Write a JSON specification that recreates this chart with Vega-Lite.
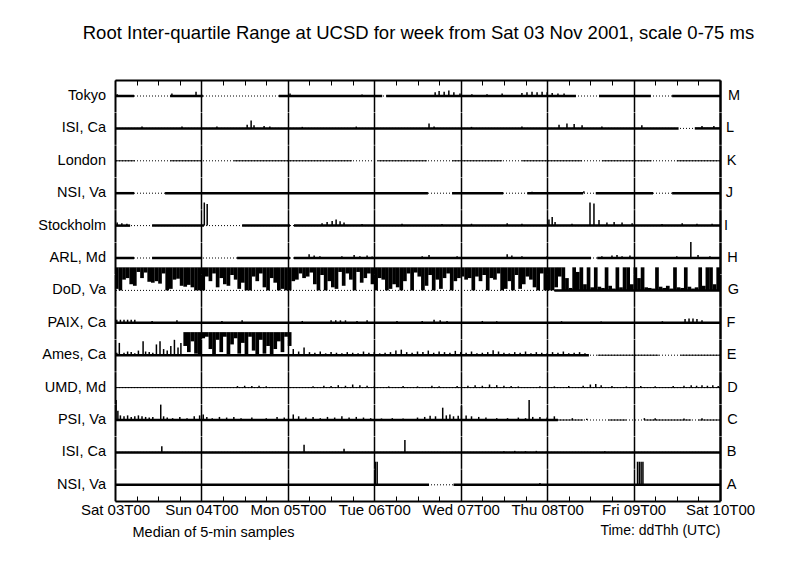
{
"$schema":"https://vega.github.io/schema/vega-lite/v6.json",
"background":"white",
"padding":{"left":38,"top":24,"right":5,"bottom":5},
"bounds":"flush",
"title":{"text":"Root Inter-quartile Range at UCSD for week from Sat 03 Nov 2001, scale 0-75 ms","font":"Liberation Sans","fontSize":18.5,"fontWeight":"normal","color":"black","offset":37,"anchor":"middle","dx":22},
"data":{"values":[
{"k":"M","m":"n","n":"Tokyo"},{"k":"L","m":"n","n":"ISI, Ca"},{"k":"K","m":"n","n":"London"},{"k":"J","m":"n","n":"NSI, Va"},{"k":"I","m":"n","n":"Stockholm"},{"k":"H","m":"n","n":"ARL, Md"},{"k":"G","m":"n","n":"DoD, Va"},{"k":"F","m":"n","n":"PAIX, Ca"},{"k":"E","m":"n","n":"Ames, Ca"},{"k":"D","m":"n","n":"UMD, Md"},{"k":"C","m":"n","n":"PSI, Va"},{"k":"B","m":"n","n":"ISI, Ca"},{"k":"A","m":"n","n":"NSI, Va"},
{"k":"M","m":"c","t":0,"u":5.3},{"k":"M","m":"c","t":15.3,"u":24.4},{"k":"M","m":"c","t":45.5,"u":74.2},{"k":"M","m":"c","t":75.3,"u":128},{"k":"M","m":"c","t":134.4,"u":148.8},{"k":"M","m":"c","t":154.7,"u":168},
{"k":"M","m":"b","t":0.6,"v":6},{"k":"M","m":"b","t":15.8,"v":8},{"k":"M","m":"b","t":22.5,"v":14},{"k":"M","m":"b","t":48.6,"v":8},{"k":"M","m":"b","t":68.6,"v":5},{"k":"M","m":"b","t":88.9,"v":12},{"k":"M","m":"b","t":90,"v":16},{"k":"M","m":"b","t":91.4,"v":14},{"k":"M","m":"b","t":92.7,"v":18},{"k":"M","m":"b","t":94.1,"v":12},{"k":"M","m":"b","t":95.8,"v":8},{"k":"M","m":"b","t":99.1,"v":6},{"k":"M","m":"b","t":103.3,"v":6},{"k":"M","m":"b","t":107.5,"v":8},{"k":"M","m":"b","t":113,"v":10},{"k":"M","m":"b","t":114.4,"v":12},{"k":"M","m":"b","t":115.8,"v":14},{"k":"M","m":"b","t":117.2,"v":12},{"k":"M","m":"b","t":118.6,"v":14},{"k":"M","m":"b","t":120,"v":12},{"k":"M","m":"b","t":121.4,"v":10},{"k":"M","m":"b","t":123,"v":8},{"k":"M","m":"b","t":124.7,"v":8},
{"k":"L","m":"c","t":0,"u":156.5},{"k":"L","m":"c","t":161,"u":168},
{"k":"L","m":"b","t":7.5,"v":6},{"k":"L","m":"b","t":18.6,"v":6},{"k":"L","m":"b","t":28.3,"v":6},{"k":"L","m":"b","t":36.7,"v":12},{"k":"L","m":"b","t":37.8,"v":26},{"k":"L","m":"b","t":38.6,"v":10},{"k":"L","m":"b","t":41.4,"v":8},{"k":"L","m":"b","t":43,"v":6},{"k":"L","m":"b","t":52,"v":5},{"k":"L","m":"b","t":67,"v":6},{"k":"L","m":"b","t":87.2,"v":16},{"k":"L","m":"b","t":88.6,"v":6},{"k":"L","m":"b","t":99,"v":5},{"k":"L","m":"b","t":113,"v":6},{"k":"L","m":"b","t":123.3,"v":12},{"k":"L","m":"b","t":125.5,"v":16},{"k":"L","m":"b","t":127.5,"v":14},{"k":"L","m":"b","t":129.7,"v":10},{"k":"L","m":"b","t":135.2,"v":6},{"k":"L","m":"b","t":146.3,"v":10},{"k":"L","m":"b","t":163,"v":8},{"k":"L","m":"b","t":166.3,"v":8},
{"k":"K","m":"z","t":0,"u":5.5},{"k":"K","m":"z","t":15.3,"u":24.2},{"k":"K","m":"z","t":33,"u":65.8},{"k":"K","m":"z","t":73,"u":86.6},{"k":"K","m":"z","t":93.6,"u":107.5},{"k":"K","m":"z","t":113,"u":129.7},{"k":"K","m":"z","t":135.2,"u":149},{"k":"K","m":"z","t":156,"u":168},
{"k":"J","m":"c","t":0,"u":5.3},{"k":"J","m":"c","t":13.9,"u":86.9},{"k":"J","m":"c","t":93.6,"u":107.8},{"k":"J","m":"c","t":114.5,"u":130},{"k":"J","m":"c","t":133.5,"u":149.4},{"k":"J","m":"c","t":154.7,"u":168},
{"k":"J","m":"b","t":115.8,"v":5},{"k":"J","m":"b","t":130.2,"v":6},
{"k":"I","m":"c","t":0,"u":4.2},{"k":"I","m":"c","t":10.3,"u":24.7},{"k":"I","m":"c","t":35.3,"u":48.6},{"k":"I","m":"c","t":49.7,"u":168},
{"k":"I","m":"b","t":0.6,"v":10},{"k":"I","m":"b","t":1.9,"v":8},{"k":"I","m":"b","t":3.3,"v":6},{"k":"I","m":"b","t":24.8,"v":75},{"k":"I","m":"b","t":25.6,"v":70},{"k":"I","m":"b","t":57.5,"v":8},{"k":"I","m":"b","t":58.9,"v":12},{"k":"I","m":"b","t":60.3,"v":15},{"k":"I","m":"b","t":61.4,"v":20},{"k":"I","m":"b","t":62.5,"v":14},{"k":"I","m":"b","t":63.6,"v":10},{"k":"I","m":"b","t":68.6,"v":5},{"k":"I","m":"b","t":79.7,"v":6},{"k":"I","m":"b","t":90.8,"v":5},{"k":"I","m":"b","t":99,"v":6},{"k":"I","m":"b","t":108.9,"v":8},{"k":"I","m":"b","t":113,"v":6},{"k":"I","m":"b","t":120.5,"v":20},{"k":"I","m":"b","t":121.4,"v":28},{"k":"I","m":"b","t":122.2,"v":12},{"k":"I","m":"b","t":126.9,"v":6},{"k":"I","m":"b","t":131.9,"v":75},{"k":"I","m":"b","t":133,"v":72},{"k":"I","m":"b","t":134.4,"v":18},{"k":"I","m":"b","t":136.6,"v":10},{"k":"I","m":"b","t":138.6,"v":12},{"k":"I","m":"b","t":140.8,"v":10},{"k":"I","m":"b","t":143.6,"v":8},{"k":"I","m":"b","t":151.9,"v":5},{"k":"I","m":"b","t":157.5,"v":8},{"k":"I","m":"b","t":161.6,"v":6},{"k":"I","m":"b","t":165.8,"v":6},
{"k":"H","m":"c","t":0,"u":5.3},{"k":"H","m":"c","t":10.3,"u":24.2},{"k":"H","m":"c","t":33.9,"u":48.6},{"k":"H","m":"c","t":49.7,"u":132.2},{"k":"H","m":"c","t":133.9,"u":168},
{"k":"H","m":"b","t":53.9,"v":12},{"k":"H","m":"b","t":55.3,"v":8},{"k":"H","m":"b","t":56.9,"v":6},{"k":"H","m":"b","t":63,"v":6},{"k":"H","m":"b","t":66.4,"v":10},{"k":"H","m":"b","t":68,"v":6},{"k":"H","m":"b","t":70,"v":8},{"k":"H","m":"b","t":71.4,"v":5},{"k":"H","m":"b","t":85.3,"v":6},{"k":"H","m":"b","t":87.2,"v":10},{"k":"H","m":"b","t":95,"v":6},{"k":"H","m":"b","t":108.9,"v":12},{"k":"H","m":"b","t":110.2,"v":8},{"k":"H","m":"b","t":113,"v":6},{"k":"H","m":"b","t":120,"v":6},{"k":"H","m":"b","t":135.2,"v":6},{"k":"H","m":"b","t":138,"v":8},{"k":"H","m":"b","t":139.4,"v":10},{"k":"H","m":"b","t":140.8,"v":6},{"k":"H","m":"b","t":143,"v":8},{"k":"H","m":"b","t":156,"v":6},{"k":"H","m":"b","t":159.9,"v":52},{"k":"H","m":"b","t":161.9,"v":10},{"k":"H","m":"b","t":165.2,"v":6},
{"k":"G","m":"c","t":122,"u":168},
{"k":"G","m":"r","t":0.5,"lo":5,"v":75},{"k":"G","m":"r","t":1.5,"lo":0,"v":75},{"k":"G","m":"r","t":2.5,"lo":35,"v":75},{"k":"G","m":"r","t":3.5,"lo":40,"v":75},{"k":"G","m":"r","t":4.5,"lo":20,"v":75},{"k":"G","m":"r","t":5.5,"lo":15,"v":75},{"k":"G","m":"r","t":6.5,"lo":60,"v":75},{"k":"G","m":"r","t":7.5,"lo":40,"v":75},{"k":"G","m":"r","t":8.5,"lo":58,"v":75},{"k":"G","m":"r","t":9.5,"lo":28,"v":75},{"k":"G","m":"r","t":10.5,"lo":25,"v":75},{"k":"G","m":"r","t":11.5,"lo":30,"v":75},{"k":"G","m":"r","t":12.5,"lo":22,"v":75},{"k":"G","m":"r","t":13.5,"lo":55,"v":75},{"k":"G","m":"r","t":14.5,"lo":0,"v":75},{"k":"G","m":"r","t":15.5,"lo":5,"v":75},{"k":"G","m":"r","t":16.5,"lo":35,"v":75},{"k":"G","m":"r","t":17.5,"lo":38,"v":75},{"k":"G","m":"r","t":18.5,"lo":15,"v":75},{"k":"G","m":"r","t":19.5,"lo":12,"v":75},{"k":"G","m":"r","t":20.5,"lo":18,"v":75},{"k":"G","m":"r","t":21.5,"lo":10,"v":75},{"k":"G","m":"r","t":22.5,"lo":0,"v":75},{"k":"G","m":"r","t":23.5,"lo":0,"v":75},
{"k":"G","m":"r","t":24.5,"lo":0,"v":75},{"k":"G","m":"r","t":25.5,"lo":45,"v":75},{"k":"G","m":"r","t":26.5,"lo":30,"v":75},{"k":"G","m":"r","t":27.5,"lo":55,"v":75},{"k":"G","m":"r","t":28.5,"lo":10,"v":75},{"k":"G","m":"r","t":29.5,"lo":40,"v":75},{"k":"G","m":"r","t":30.5,"lo":20,"v":75},{"k":"G","m":"r","t":31.5,"lo":15,"v":75},{"k":"G","m":"r","t":32.5,"lo":50,"v":75},{"k":"G","m":"r","t":33.5,"lo":35,"v":75},{"k":"G","m":"r","t":34.5,"lo":5,"v":75},{"k":"G","m":"r","t":35.5,"lo":25,"v":75},{"k":"G","m":"r","t":36.5,"lo":0,"v":75},{"k":"G","m":"r","t":37.5,"lo":0,"v":75},{"k":"G","m":"r","t":38.5,"lo":45,"v":75},{"k":"G","m":"r","t":39.5,"lo":30,"v":75},{"k":"G","m":"r","t":40.5,"lo":55,"v":75},{"k":"G","m":"r","t":41.5,"lo":10,"v":75},{"k":"G","m":"r","t":42.5,"lo":0,"v":75},{"k":"G","m":"r","t":43.5,"lo":40,"v":75},{"k":"G","m":"r","t":44.5,"lo":25,"v":75},{"k":"G","m":"r","t":45.5,"lo":0,"v":75},{"k":"G","m":"r","t":46.5,"lo":5,"v":75},{"k":"G","m":"r","t":47.5,"lo":0,"v":75},
{"k":"G","m":"r","t":48.5,"lo":0,"v":75},{"k":"G","m":"r","t":49.5,"lo":30,"v":75},{"k":"G","m":"r","t":50.5,"lo":35,"v":75},{"k":"G","m":"r","t":51.5,"lo":55,"v":75},{"k":"G","m":"r","t":52.5,"lo":40,"v":75},{"k":"G","m":"r","t":53.5,"lo":45,"v":75},{"k":"G","m":"r","t":54.5,"lo":58,"v":75},{"k":"G","m":"r","t":55.5,"lo":20,"v":75},{"k":"G","m":"r","t":56.5,"lo":0,"v":75},{"k":"G","m":"r","t":57.5,"lo":50,"v":75},{"k":"G","m":"r","t":58.5,"lo":0,"v":75},{"k":"G","m":"r","t":59.5,"lo":30,"v":75},{"k":"G","m":"r","t":60.5,"lo":10,"v":75},{"k":"G","m":"r","t":61.5,"lo":5,"v":75},{"k":"G","m":"r","t":62.5,"lo":60,"v":75},{"k":"G","m":"r","t":63.5,"lo":15,"v":75},{"k":"G","m":"r","t":64.5,"lo":55,"v":75},{"k":"G","m":"r","t":65.5,"lo":35,"v":75},{"k":"G","m":"r","t":66.5,"lo":0,"v":75},{"k":"G","m":"r","t":67.5,"lo":60,"v":75},{"k":"G","m":"r","t":68.5,"lo":25,"v":75},{"k":"G","m":"r","t":69.5,"lo":40,"v":75},{"k":"G","m":"r","t":70.5,"lo":55,"v":75},{"k":"G","m":"r","t":71.5,"lo":20,"v":75},
{"k":"G","m":"r","t":72.5,"lo":0,"v":75},{"k":"G","m":"r","t":73.5,"lo":40,"v":75},{"k":"G","m":"r","t":74.5,"lo":35,"v":75},{"k":"G","m":"r","t":75.5,"lo":0,"v":75},{"k":"G","m":"r","t":76.5,"lo":5,"v":75},{"k":"G","m":"r","t":77.5,"lo":20,"v":75},{"k":"G","m":"r","t":78.5,"lo":10,"v":75},{"k":"G","m":"r","t":79.5,"lo":0,"v":75},{"k":"G","m":"r","t":80.5,"lo":30,"v":75},{"k":"G","m":"r","t":81.5,"lo":55,"v":75},{"k":"G","m":"r","t":82.5,"lo":0,"v":75},{"k":"G","m":"r","t":83.5,"lo":58,"v":75},{"k":"G","m":"r","t":84.5,"lo":45,"v":75},{"k":"G","m":"r","t":85.5,"lo":0,"v":75},{"k":"G","m":"r","t":86.5,"lo":15,"v":75},{"k":"G","m":"r","t":87.5,"lo":50,"v":75},{"k":"G","m":"r","t":88.5,"lo":0,"v":75},{"k":"G","m":"r","t":89.5,"lo":35,"v":75},{"k":"G","m":"r","t":90.5,"lo":5,"v":75},{"k":"G","m":"r","t":91.5,"lo":40,"v":75},{"k":"G","m":"r","t":92.5,"lo":55,"v":75},{"k":"G","m":"r","t":93.5,"lo":0,"v":75},{"k":"G","m":"r","t":94.5,"lo":30,"v":75},{"k":"G","m":"r","t":95.5,"lo":40,"v":75},
{"k":"G","m":"r","t":96.5,"lo":45,"v":75},{"k":"G","m":"r","t":97.5,"lo":35,"v":75},{"k":"G","m":"r","t":98.5,"lo":40,"v":75},{"k":"G","m":"r","t":99.5,"lo":0,"v":75},{"k":"G","m":"r","t":100.5,"lo":45,"v":75},{"k":"G","m":"r","t":101.5,"lo":30,"v":75},{"k":"G","m":"r","t":102.5,"lo":50,"v":75},{"k":"G","m":"r","t":103.5,"lo":0,"v":75},{"k":"G","m":"r","t":104.5,"lo":40,"v":75},{"k":"G","m":"r","t":105.5,"lo":35,"v":75},{"k":"G","m":"r","t":106.5,"lo":55,"v":75},{"k":"G","m":"r","t":107.5,"lo":0,"v":75},{"k":"G","m":"r","t":108.5,"lo":5,"v":75},{"k":"G","m":"r","t":109.5,"lo":30,"v":75},{"k":"G","m":"r","t":110.5,"lo":0,"v":75},{"k":"G","m":"r","t":111.5,"lo":50,"v":75},{"k":"G","m":"r","t":112.5,"lo":5,"v":75},{"k":"G","m":"r","t":113.5,"lo":20,"v":75},{"k":"G","m":"r","t":114.5,"lo":45,"v":75},{"k":"G","m":"r","t":115.5,"lo":35,"v":75},{"k":"G","m":"r","t":116.5,"lo":10,"v":75},{"k":"G","m":"r","t":117.5,"lo":0,"v":75},{"k":"G","m":"r","t":118.5,"lo":55,"v":75},{"k":"G","m":"r","t":119.5,"lo":0,"v":75},
{"k":"G","m":"r","t":120.5,"lo":0,"v":75},{"k":"G","m":"r","t":121.5,"lo":0,"v":75},{"k":"G","m":"r","t":122.5,"lo":10,"v":75},{"k":"G","m":"r","t":123.5,"lo":45,"v":75},{"k":"G","m":"r","t":124.5,"lo":0,"v":75},{"k":"G","m":"r","t":125.5,"lo":0,"v":40},{"k":"G","m":"r","t":126.5,"lo":0,"v":8},{"k":"G","m":"r","t":127.5,"lo":0,"v":75},{"k":"G","m":"r","t":128.5,"lo":0,"v":60},{"k":"G","m":"r","t":129.5,"lo":0,"v":75},{"k":"G","m":"r","t":130.5,"lo":0,"v":20},{"k":"G","m":"r","t":131.5,"lo":0,"v":75},{"k":"G","m":"r","t":132.5,"lo":0,"v":10},{"k":"G","m":"r","t":133.5,"lo":0,"v":75},{"k":"G","m":"r","t":134.5,"lo":0,"v":12},{"k":"G","m":"r","t":135.5,"lo":0,"v":8},{"k":"G","m":"r","t":136.5,"lo":0,"v":75},{"k":"G","m":"r","t":137.5,"lo":0,"v":15},{"k":"G","m":"r","t":138.5,"lo":0,"v":6},{"k":"G","m":"r","t":139.5,"lo":0,"v":75},{"k":"G","m":"r","t":140.5,"lo":0,"v":10},{"k":"G","m":"r","t":141.5,"lo":0,"v":75},{"k":"G","m":"r","t":142.5,"lo":0,"v":75},{"k":"G","m":"r","t":143.5,"lo":0,"v":20},
{"k":"G","m":"r","t":144.5,"lo":0,"v":75},{"k":"G","m":"r","t":145.5,"lo":0,"v":40},{"k":"G","m":"r","t":146.5,"lo":0,"v":75},{"k":"G","m":"r","t":147.5,"lo":0,"v":10},{"k":"G","m":"r","t":148.5,"lo":0,"v":8},{"k":"G","m":"r","t":149.5,"lo":0,"v":6},{"k":"G","m":"r","t":150.5,"lo":0,"v":75},{"k":"G","m":"r","t":151.5,"lo":0,"v":12},{"k":"G","m":"r","t":152.5,"lo":0,"v":8},{"k":"G","m":"r","t":153.5,"lo":0,"v":15},{"k":"G","m":"r","t":154.5,"lo":0,"v":6},{"k":"G","m":"r","t":155.5,"lo":0,"v":75},{"k":"G","m":"r","t":156.5,"lo":0,"v":10},{"k":"G","m":"r","t":157.5,"lo":0,"v":8},{"k":"G","m":"r","t":158.5,"lo":0,"v":75},{"k":"G","m":"r","t":159.5,"lo":0,"v":12},{"k":"G","m":"r","t":160.5,"lo":0,"v":6},{"k":"G","m":"r","t":161.5,"lo":0,"v":10},{"k":"G","m":"r","t":162.5,"lo":0,"v":75},{"k":"G","m":"r","t":163.5,"lo":0,"v":15},{"k":"G","m":"r","t":164.5,"lo":0,"v":75},{"k":"G","m":"r","t":165.5,"lo":0,"v":75},{"k":"G","m":"r","t":166.5,"lo":0,"v":20},{"k":"G","m":"r","t":167.5,"lo":0,"v":75},
{"k":"F","m":"c","t":0,"u":168},
{"k":"F","m":"b","t":0.5,"v":10},{"k":"F","m":"b","t":1.5,"v":10},{"k":"F","m":"b","t":2.5,"v":10},{"k":"F","m":"b","t":3.5,"v":10},{"k":"F","m":"b","t":4.5,"v":10},{"k":"F","m":"b","t":5.5,"v":10},{"k":"F","m":"b","t":10.3,"v":6},{"k":"F","m":"b","t":17.2,"v":8},{"k":"F","m":"b","t":29.7,"v":6},{"k":"F","m":"b","t":35.3,"v":8},{"k":"F","m":"b","t":52,"v":6},{"k":"F","m":"b","t":60,"v":8},{"k":"F","m":"b","t":61.3,"v":8},{"k":"F","m":"b","t":62.6,"v":8},{"k":"F","m":"b","t":64,"v":8},{"k":"F","m":"b","t":67.2,"v":6},{"k":"F","m":"b","t":70,"v":8},{"k":"F","m":"b","t":78.3,"v":6},{"k":"F","m":"b","t":85.3,"v":6},{"k":"F","m":"b","t":88.6,"v":10},{"k":"F","m":"b","t":90.3,"v":8},{"k":"F","m":"b","t":92.2,"v":6},{"k":"F","m":"b","t":102,"v":6},{"k":"F","m":"b","t":106,"v":5},{"k":"F","m":"b","t":124,"v":5},{"k":"F","m":"b","t":135,"v":4},{"k":"F","m":"b","t":152,"v":5},{"k":"F","m":"b","t":158.3,"v":12},{"k":"F","m":"b","t":159.4,"v":14},{"k":"F","m":"b","t":160.5,"v":14},{"k":"F","m":"b","t":161.6,"v":12},{"k":"F","m":"b","t":163,"v":8},
{"k":"E","m":"c","t":0,"u":131.6},{"k":"E","m":"z","t":134,"u":151},{"k":"E","m":"z","t":157,"u":168},
{"k":"E","m":"b","t":0.5,"v":8},{"k":"E","m":"b","t":1.2,"v":40},{"k":"E","m":"b","t":2.5,"v":8},{"k":"E","m":"b","t":3.5,"v":12},{"k":"E","m":"b","t":4.5,"v":10},{"k":"E","m":"b","t":5.5,"v":6},{"k":"E","m":"b","t":6.5,"v":15},{"k":"E","m":"b","t":7.8,"v":45},{"k":"E","m":"b","t":8.5,"v":12},{"k":"E","m":"b","t":9.5,"v":10},{"k":"E","m":"b","t":10.5,"v":8},{"k":"E","m":"b","t":11.5,"v":35},{"k":"E","m":"b","t":12.5,"v":45},{"k":"E","m":"b","t":13.5,"v":20},{"k":"E","m":"b","t":14.5,"v":15},{"k":"E","m":"b","t":15.5,"v":30},{"k":"E","m":"b","t":16.5,"v":50},{"k":"E","m":"b","t":17.5,"v":25},{"k":"E","m":"b","t":18.3,"v":40},
{"k":"E","m":"r","t":19.5,"lo":30,"v":75},{"k":"E","m":"r","t":20.5,"lo":10,"v":75},{"k":"E","m":"r","t":21.5,"lo":45,"v":75},{"k":"E","m":"r","t":22.5,"lo":5,"v":75},{"k":"E","m":"r","t":23.5,"lo":0,"v":75},{"k":"E","m":"r","t":24.5,"lo":55,"v":75},{"k":"E","m":"r","t":25.5,"lo":60,"v":75},{"k":"E","m":"r","t":26.5,"lo":20,"v":75},{"k":"E","m":"r","t":27.5,"lo":0,"v":75},{"k":"E","m":"r","t":28.5,"lo":50,"v":75},{"k":"E","m":"r","t":29.5,"lo":10,"v":75},{"k":"E","m":"r","t":30.5,"lo":60,"v":75},{"k":"E","m":"r","t":31.5,"lo":0,"v":75},{"k":"E","m":"r","t":32.5,"lo":35,"v":75},{"k":"E","m":"r","t":33.5,"lo":55,"v":75},{"k":"E","m":"r","t":34.5,"lo":5,"v":75},{"k":"E","m":"r","t":35.5,"lo":40,"v":75},{"k":"E","m":"r","t":36.5,"lo":0,"v":75},{"k":"E","m":"r","t":37.5,"lo":60,"v":75},{"k":"E","m":"r","t":38.5,"lo":15,"v":75},{"k":"E","m":"r","t":39.5,"lo":0,"v":75},{"k":"E","m":"r","t":40.5,"lo":50,"v":75},{"k":"E","m":"r","t":41.5,"lo":5,"v":75},{"k":"E","m":"r","t":42.5,"lo":30,"v":75},{"k":"E","m":"r","t":43.5,"lo":0,"v":75},{"k":"E","m":"r","t":44.5,"lo":20,"v":75},{"k":"E","m":"r","t":45.5,"lo":45,"v":75},{"k":"E","m":"r","t":46.5,"lo":10,"v":75},{"k":"E","m":"r","t":47.5,"lo":60,"v":75},{"k":"E","m":"r","t":48.5,"lo":30,"v":75},
{"k":"E","m":"b","t":49.5,"v":20},{"k":"E","m":"b","t":51,"v":12},{"k":"E","m":"b","t":52.5,"v":25},{"k":"E","m":"b","t":54,"v":10},{"k":"E","m":"b","t":55.5,"v":8},{"k":"E","m":"b","t":57,"v":12},{"k":"E","m":"b","t":58.5,"v":6},{"k":"E","m":"b","t":60,"v":10},{"k":"E","m":"b","t":61.5,"v":8},{"k":"E","m":"b","t":63,"v":6},{"k":"E","m":"b","t":64.5,"v":10},{"k":"E","m":"b","t":66,"v":8},{"k":"E","m":"b","t":67.5,"v":6},{"k":"E","m":"b","t":69,"v":12},{"k":"E","m":"b","t":70.5,"v":8},{"k":"E","m":"b","t":72,"v":10},{"k":"E","m":"b","t":73.5,"v":6},{"k":"E","m":"b","t":75,"v":8},{"k":"E","m":"b","t":76.5,"v":10},{"k":"E","m":"b","t":78,"v":15},{"k":"E","m":"b","t":79.5,"v":18},{"k":"E","m":"b","t":81,"v":10},{"k":"E","m":"b","t":82.5,"v":8},{"k":"E","m":"b","t":84,"v":12},{"k":"E","m":"b","t":85.5,"v":10},{"k":"E","m":"b","t":87,"v":15},{"k":"E","m":"b","t":88.5,"v":8},{"k":"E","m":"b","t":90,"v":12},{"k":"E","m":"b","t":91.5,"v":10},{"k":"E","m":"b","t":93,"v":8},{"k":"E","m":"b","t":94.5,"v":14},{"k":"E","m":"b","t":96,"v":10},{"k":"E","m":"b","t":97.5,"v":8},{"k":"E","m":"b","t":99,"v":12},{"k":"E","m":"b","t":100.5,"v":6},{"k":"E","m":"b","t":102,"v":8},{"k":"E","m":"b","t":103.5,"v":10},{"k":"E","m":"b","t":105,"v":16},{"k":"E","m":"b","t":106.5,"v":12},{"k":"E","m":"b","t":108,"v":8},{"k":"E","m":"b","t":109.5,"v":6},{"k":"E","m":"b","t":111,"v":10},{"k":"E","m":"b","t":112.5,"v":8},{"k":"E","m":"b","t":114,"v":12},{"k":"E","m":"b","t":115.5,"v":6},{"k":"E","m":"b","t":117,"v":10},{"k":"E","m":"b","t":118.5,"v":8},{"k":"E","m":"b","t":120,"v":6},{"k":"E","m":"b","t":121.5,"v":10},{"k":"E","m":"b","t":123,"v":8},{"k":"E","m":"b","t":124.5,"v":12},{"k":"E","m":"b","t":126,"v":6},{"k":"E","m":"b","t":127.5,"v":8},{"k":"E","m":"b","t":129,"v":10},{"k":"E","m":"b","t":130.5,"v":6},
{"k":"D","m":"z","t":0,"u":168},
{"k":"D","m":"b","t":34,"v":5},{"k":"D","m":"b","t":36,"v":6},{"k":"D","m":"b","t":38,"v":5},{"k":"D","m":"b","t":40,"v":6},{"k":"D","m":"b","t":42,"v":4},{"k":"D","m":"b","t":55,"v":4},{"k":"D","m":"b","t":58,"v":6},{"k":"D","m":"b","t":60,"v":5},{"k":"D","m":"b","t":62,"v":8},{"k":"D","m":"b","t":64,"v":6},{"k":"D","m":"b","t":66,"v":10},{"k":"D","m":"b","t":68,"v":8},{"k":"D","m":"b","t":70,"v":6},{"k":"D","m":"b","t":72,"v":4},{"k":"D","m":"b","t":76,"v":4},{"k":"D","m":"b","t":80,"v":5},{"k":"D","m":"b","t":84,"v":4},{"k":"D","m":"b","t":88,"v":6},{"k":"D","m":"b","t":90,"v":4},{"k":"D","m":"b","t":95,"v":5},{"k":"D","m":"b","t":98,"v":6},{"k":"D","m":"b","t":100,"v":8},{"k":"D","m":"b","t":102,"v":6},{"k":"D","m":"b","t":104,"v":10},{"k":"D","m":"b","t":106,"v":8},{"k":"D","m":"b","t":108,"v":6},{"k":"D","m":"b","t":110,"v":5},{"k":"D","m":"b","t":112,"v":4},{"k":"D","m":"b","t":118,"v":4},{"k":"D","m":"b","t":122,"v":4},{"k":"D","m":"b","t":126,"v":5},{"k":"D","m":"b","t":130,"v":6},{"k":"D","m":"b","t":132,"v":10},{"k":"D","m":"b","t":133.5,"v":12},{"k":"D","m":"b","t":135,"v":8},{"k":"D","m":"b","t":138,"v":5},{"k":"D","m":"b","t":142,"v":4},{"k":"D","m":"b","t":146,"v":5},{"k":"D","m":"b","t":150,"v":4},{"k":"D","m":"b","t":155,"v":5},{"k":"D","m":"b","t":158,"v":6},{"k":"D","m":"b","t":160,"v":8},{"k":"D","m":"b","t":161.5,"v":6},{"k":"D","m":"b","t":163,"v":8},{"k":"D","m":"b","t":164.5,"v":6},{"k":"D","m":"b","t":166,"v":8},{"k":"D","m":"b","t":167.5,"v":5},
{"k":"C","m":"c","t":0,"u":123},{"k":"C","m":"z","t":123,"u":130},{"k":"C","m":"z","t":137,"u":142},{"k":"C","m":"z","t":147,"u":160},{"k":"C","m":"z","t":162,"u":168},
{"k":"C","m":"b","t":0.3,"v":65},{"k":"C","m":"b","t":0.8,"v":30},{"k":"C","m":"b","t":1.5,"v":15},{"k":"C","m":"b","t":2.5,"v":12},{"k":"C","m":"b","t":3.5,"v":15},{"k":"C","m":"b","t":4.5,"v":10},{"k":"C","m":"b","t":5.5,"v":12},{"k":"C","m":"b","t":6.5,"v":15},{"k":"C","m":"b","t":7.5,"v":12},{"k":"C","m":"b","t":8.5,"v":10},{"k":"C","m":"b","t":9.5,"v":8},{"k":"C","m":"b","t":10.5,"v":10},{"k":"C","m":"b","t":12.7,"v":50},{"k":"C","m":"b","t":13.5,"v":12},{"k":"C","m":"b","t":14.5,"v":8},{"k":"C","m":"b","t":16,"v":6},{"k":"C","m":"b","t":18,"v":10},{"k":"C","m":"b","t":20,"v":6},{"k":"C","m":"b","t":22,"v":12},{"k":"C","m":"b","t":23.5,"v":15},{"k":"C","m":"b","t":24.5,"v":18},{"k":"C","m":"b","t":25.5,"v":10},{"k":"C","m":"b","t":27,"v":6},{"k":"C","m":"b","t":29,"v":10},{"k":"C","m":"b","t":31,"v":8},{"k":"C","m":"b","t":33,"v":10},{"k":"C","m":"b","t":35,"v":6},{"k":"C","m":"b","t":38,"v":8},{"k":"C","m":"b","t":42,"v":6},{"k":"C","m":"b","t":45,"v":10},{"k":"C","m":"b","t":47,"v":8},{"k":"C","m":"b","t":49.5,"v":18},{"k":"C","m":"b","t":51,"v":12},{"k":"C","m":"b","t":53,"v":8},{"k":"C","m":"b","t":55,"v":10},{"k":"C","m":"b","t":57,"v":6},{"k":"C","m":"b","t":59,"v":10},{"k":"C","m":"b","t":61,"v":8},{"k":"C","m":"b","t":63,"v":12},{"k":"C","m":"b","t":65,"v":8},{"k":"C","m":"b","t":67,"v":10},{"k":"C","m":"b","t":69,"v":8},{"k":"C","m":"b","t":71,"v":6},{"k":"C","m":"b","t":74,"v":5},{"k":"C","m":"b","t":77,"v":6},{"k":"C","m":"b","t":80,"v":5},{"k":"C","m":"b","t":84,"v":8},{"k":"C","m":"b","t":86,"v":10},{"k":"C","m":"b","t":87.5,"v":14},{"k":"C","m":"b","t":89,"v":12},{"k":"C","m":"b","t":91,"v":40},{"k":"C","m":"b","t":92,"v":15},{"k":"C","m":"b","t":93,"v":18},{"k":"C","m":"b","t":94,"v":12},{"k":"C","m":"b","t":95.3,"v":14},{"k":"C","m":"b","t":96.2,"v":45},{"k":"C","m":"b","t":97.5,"v":15},{"k":"C","m":"b","t":99,"v":12},{"k":"C","m":"b","t":101,"v":10},{"k":"C","m":"b","t":103,"v":8},{"k":"C","m":"b","t":106,"v":6},{"k":"C","m":"b","t":109,"v":6},{"k":"C","m":"b","t":112,"v":8},{"k":"C","m":"b","t":114,"v":6},{"k":"C","m":"b","t":115,"v":65},{"k":"C","m":"b","t":116,"v":10},{"k":"C","m":"b","t":118,"v":10},{"k":"C","m":"b","t":120,"v":8},{"k":"C","m":"b","t":122,"v":12},{"k":"C","m":"b","t":127,"v":6},{"k":"C","m":"b","t":131,"v":4},{"k":"C","m":"b","t":147,"v":6},{"k":"C","m":"b","t":150,"v":6},{"k":"C","m":"b","t":158,"v":5},{"k":"C","m":"b","t":163,"v":6},
{"k":"B","m":"c","t":0,"u":168},
{"k":"B","m":"b","t":13,"v":20},{"k":"B","m":"b","t":52.5,"v":25},{"k":"B","m":"b","t":63.6,"v":12},{"k":"B","m":"b","t":80.5,"v":40},{"k":"B","m":"b","t":108,"v":4},{"k":"B","m":"b","t":111,"v":5},{"k":"B","m":"b","t":114,"v":4},{"k":"B","m":"b","t":117,"v":5},{"k":"B","m":"b","t":120,"v":3},{"k":"B","m":"b","t":136,"v":4},
{"k":"A","m":"c","t":0,"u":87.2},{"k":"A","m":"c","t":94,"u":168},
{"k":"A","m":"b","t":72.3,"v":75},{"k":"A","m":"b","t":72.8,"v":75},{"k":"A","m":"b","t":118,"v":6},{"k":"A","m":"b","t":145.1,"v":75},{"k":"A","m":"b","t":145.6,"v":75},{"k":"A","m":"b","t":146.1,"v":75},{"k":"A","m":"b","t":146.6,"v":75}
]},
"facet":{"row":{"field":"k","type":"nominal","sort":"descending","title":null,"header":{"labelOrient":"right","labelAngle":0,"labelAlign":"center","labelBaseline":"middle","labelPadding":2,"labelFont":"Liberation Sans","labelFontSize":14.5,"labelColor":"black"}}},
"spacing":{"row":0.4},
"spec":{
"width":605,"height":32,
"layer":[
{"transform":[{"filter":"datum.m == 'n'"}],"mark":{"type":"rule","strokeDash":[1,2],"strokeWidth":1,"color":"black"},"encoding":{"y":{"datum":0,"scale":{"domain":[-52,52],"nice":false,"zero":false},"axis":null}}},
{"transform":[{"filter":"datum.m == 'z'"}],"mark":{"type":"rule","strokeWidth":1,"color":"black"},"encoding":{
"x":{"field":"t","type":"quantitative","scale":{"domain":[0,168],"nice":false,"zero":false},"axis":{"orient":"bottom","values":[0,6,12,18,24,30,36,42,48,54,60,66,72,78,84,90,96,102,108,114,120,126,132,138,144,150,156,162,168],"tickSize":-5,"tickWidth":1,"labels":false,"domainWidth":2,"grid":false,"title":null}},
"x2":{"field":"u"},"y":{"datum":0,"axis":null}}},
{"transform":[{"filter":"datum.m == 'c'"}],"mark":{"type":"rule","strokeWidth":2.5,"color":"black"},"encoding":{
"x":{"field":"t","type":"quantitative","axis":{"orient":"top","values":[0,6,12,18,24,30,36,42,48,54,60,66,72,78,84,90,96,102,108,114,120,126,132,138,144,150,156,162,168],"tickSize":-5,"tickWidth":1,"labels":false,"domainWidth":2,"grid":false,"title":null}},
"x2":{"field":"u"},"y":{"datum":0,"axis":{"orient":"left","labels":false,"ticks":false,"domainWidth":2,"grid":false,"title":null,"minExtent":0}}}},
{"transform":[{"filter":"datum.m == 'b'"}],"mark":{"type":"rule","strokeWidth":1.5,"color":"black","clip":false},"encoding":{
"x":{"field":"t","type":"quantitative","axis":{"orient":"bottom","values":[0,24,48,72,96,120,144,168],"labelExpr":"utcFormat(1004745600000 + datum.value*3600000, '%a %dT%H')","ticks":false,"domain":false,"grid":false,"labelPadding":1,"labelFontSize":15,"labelFlush":false,"labelOverlap":false,"title":"Time: ddThh (UTC)","titleFontSize":14,"titleAnchor":"end","titlePadding":6}},
"y":{"field":"v","type":"quantitative","axis":{"orient":"right","labels":false,"ticks":false,"domainWidth":2.5,"grid":false,"title":null,"minExtent":0}},"y2":{"datum":0}}},
{"transform":[{"filter":"datum.m == 'r'"}],"mark":{"type":"rule","strokeWidth":3.7,"color":"black","clip":false},"encoding":{
"x":{"field":"t","type":"quantitative","axis":{"orient":"bottom","labels":false,"ticks":false,"domain":false,"grid":false,"title":"Median of 5-min samples","titleFontSize":14.5,"titleAnchor":"start","titleAlign":"left","titleX":17,"titlePadding":24}},
"y":{"field":"lo","type":"quantitative","axis":null},"y2":{"field":"v"}}},
{"transform":[{"filter":"datum.m == 'n'"}],"mark":{"type":"text","align":"right","baseline":"middle","dx":-9,"font":"Liberation Sans","fontSize":14.5,"color":"black"},"encoding":{
"x":{"datum":0,"type":"quantitative","axis":{"orient":"top","values":[24,48,72,96,120,144],"grid":true,"gridWidth":1.5,"gridOpacity":1,"labels":false,"ticks":false,"domain":false,"title":null}},
"y":{"datum":0,"axis":null},"text":{"field":"n"}}}
],
"resolve":{"axis":{"x":"independent","y":"independent"}}
},
"config":{"view":{"stroke":null},"axis":{"labelFont":"Liberation Sans","titleFont":"Liberation Sans","labelColor":"black","titleColor":"black","domainColor":"black","tickColor":"black","gridColor":"black","titleFontWeight":"normal"}}
}
